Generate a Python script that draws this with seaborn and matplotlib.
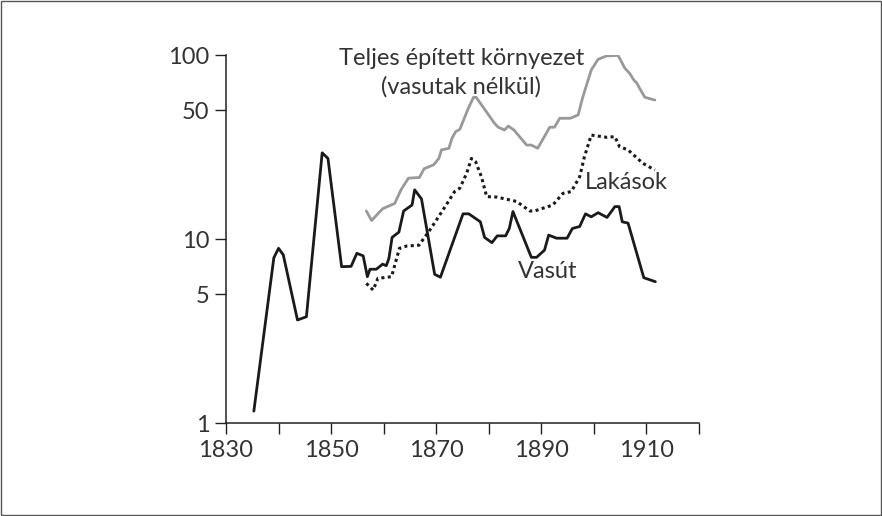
import numpy as np
import pandas as pd
import matplotlib
matplotlib.use("Agg")
import matplotlib.pyplot as plt
from matplotlib.patches import Rectangle
import seaborn as sns

# --- data (years, values on log scale) ---
vasut_years = [1835.3, 1839.1, 1840.0, 1840.9, 1843.6, 1845.3, 1848.3, 1849.4, 1852.0, 1853.8,
               1854.9, 1856.1, 1856.9, 1857.4, 1858.6, 1859.8, 1860.5, 1861.0, 1861.6, 1862.9,
               1863.8, 1865.4, 1865.9, 1867.2, 1869.7, 1870.8, 1875.1, 1876.2, 1878.4, 1879.2,
               1880.6, 1881.6, 1883.2, 1883.9, 1884.6, 1888.1, 1889.1, 1890.6, 1891.4, 1892.9,
               1894.9, 1895.9, 1897.3, 1898.4, 1899.5, 1900.8, 1902.5, 1904.0, 1904.8, 1905.4,
               1906.5, 1909.5, 1911.7]
vasut_values = [1.16, 7.9, 8.9, 8.2, 3.63, 3.78, 29.4, 27.4, 7.07, 7.1,
                8.36, 8.1, 6.24, 6.85, 6.85, 7.3, 7.16, 7.85, 10.2, 10.9,
                14.2, 15.3, 18.5, 16.5, 6.43, 6.2, 13.7, 13.7, 12.4, 10.2,
                9.55, 10.4, 10.4, 11.4, 14.1, 7.95, 7.95, 8.7, 10.5, 10.1,
                10.1, 11.4, 11.7, 13.7, 13.2, 13.9, 13.1, 15.0, 15.0, 12.4,
                12.2, 6.16, 5.86]

teljes_years = [1856.7, 1857.7, 1859.8, 1862.1, 1863.3, 1864.7, 1866.8, 1867.7, 1869.5, 1870.5,
                1871.0, 1872.4, 1873.0, 1873.7, 1874.5, 1876.1, 1877.1, 1877.6, 1881.1, 1881.8,
                1883.0, 1883.7, 1884.8, 1887.2, 1888.1, 1889.3, 1891.6, 1892.5, 1893.5, 1895.5,
                1897.0, 1897.9, 1899.5, 1900.8, 1902.4, 1904.6, 1905.9, 1906.8, 1907.6, 1908.2,
                1908.7, 1909.7, 1911.6]
teljes_values = [14.2, 12.6, 14.6, 15.6, 18.5, 21.4, 21.6, 24.1, 25.3, 27.4,
                 30.5, 31.1, 35.3, 38.3, 39.5, 51.3, 58.9, 58.9, 42.5, 40.5,
                 39.1, 41.1, 39.1, 32.4, 32.4, 31.1, 40.5, 40.5, 45.3, 45.3,
                 47.2, 59.3, 82.9, 94.8, 98.8, 99.5, 84.7, 79.5, 73.1, 70.2,
                 65.9, 58.9, 56.9]

lakasok_years = [1856.7, 1858.0, 1858.9, 1861.5, 1863.0, 1864.4, 1866.7, 1868.8, 1871.3, 1873.5,
                 1874.5, 1875.8, 1876.7, 1877.5, 1878.6, 1879.6, 1881.5, 1885.3, 1887.8, 1888.7,
                 1892.2, 1894.1, 1895.7, 1897.3, 1898.2, 1899.5, 1902.4, 1904.0, 1904.9, 1906.5,
                 1909.3, 1911.6]
lakasok_values = [5.74, 5.28, 6.11, 6.24, 8.9, 9.16, 9.25, 11.2, 14.4, 18.1,
                  18.9, 22.8, 27.4, 26.3, 21.8, 17.0, 16.9, 16.0, 14.2, 14.2,
                  15.3, 17.7, 18.1, 21.8, 28.0, 36.7, 35.7, 36.0, 31.7, 30.5,
                  25.8, 23.7]

x_ticks = [1830, 1840, 1850, 1860, 1870, 1880, 1890, 1900, 1910, 1920]
x_labels = ["1830", "", "1850", "", "1870", "", "1890", "", "1910", ""]
y_ticks = [1, 5, 10, 50, 100]
y_labels = ["1", "5", "10", "50", "100"]

series_names = ["Vasút", "Teljes", "Lakások"]
title_lines = ["Teljes épített környezet", "(vasutak nélkül)"]

df = pd.concat([
    pd.DataFrame({"year": vasut_years, "value": vasut_values, "series": series_names[0]}),
    pd.DataFrame({"year": teljes_years, "value": teljes_values, "series": series_names[1]}),
    pd.DataFrame({"year": lakasok_years, "value": lakasok_values, "series": series_names[2]}),
])

sns.set_style("white")
plt.rcParams["font.family"] = ["Lato", "DejaVu Sans"]

fig = plt.figure(figsize=(8.82, 5.16), dpi=100)
ax = fig.add_axes([226 / 882, 1 - 423 / 516, (699 - 226) / 882, (423 - 55) / 516])

styles = {
    "Vasút": dict(color="#1a1a1a", lw=2.0, ls="-"),
    "Teljes": dict(color="#999999", lw=2.0, ls="-"),
    "Lakások": dict(color="#1a1a1a", lw=2.2, ls=(0, (1, 1.1))),
}
for name in series_names:
    st = styles[name]
    sns.lineplot(data=df[df["series"] == name], x="year", y="value", ax=ax,
                 color=st["color"], linewidth=st["lw"], linestyle=st["ls"],
                 estimator=None, sort=False, legend=False)

ax.set_yscale("log")
ax.set_xlim(1830, 1920)
ax.set_ylim(1, 100)
ax.set_xticks(x_ticks)
ax.set_xticklabels(x_labels)
ax.set_yticks(y_ticks)
ax.set_yticklabels(y_labels)
ax.minorticks_off()
ax.set_xlabel("")
ax.set_ylabel("")

for s in ["top", "right"]:
    ax.spines[s].set_visible(False)
for s in ["left", "bottom"]:
    ax.spines[s].set_color("#222222")
    ax.spines[s].set_linewidth(1.1)
ax.tick_params(axis="both", direction="out", length=8, width=1.0, color="#222222",
               labelsize=17, labelcolor="#333333", pad=4, left=True, bottom=True)

txt = dict(fontsize=17, color="#333333", va="baseline", clip_on=False)
ax.text(1874.8, 88.2, title_lines[0], ha="center", **txt)
ax.text(1874.8, 61.9, title_lines[1], ha="center", **txt)
ax.text(1898.25, 18.6, "Lakások", ha="left", **txt)
ax.text(1885.5, 6.12, "Vasút", ha="left", **txt)

fig.patches.append(Rectangle((0.001, 0.001), 0.998, 0.998, transform=fig.transFigure,
                             fill=False, edgecolor="#555555", lw=1.0))

fig.savefig("out.png", dpi=100)
